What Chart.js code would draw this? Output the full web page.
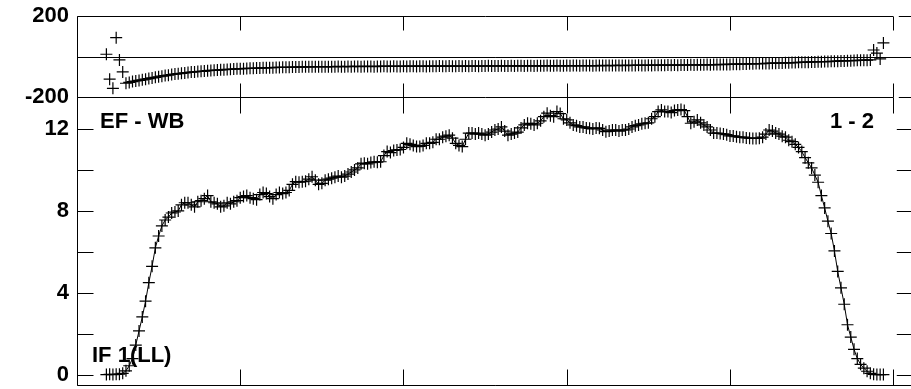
<!DOCTYPE html>
<html><head><meta charset="utf-8">
<script src="https://cdn.jsdelivr.net/npm/chart.js@4"></script>
<style>
html,body{margin:0;padding:0;background:#fff;overflow:hidden;width:911px;height:389px}
canvas{position:absolute;left:0;top:0}
</style></head>
<body>
<canvas id="topPanel" width="920" height="400"></canvas>
<canvas id="botPanel" width="920" height="400"></canvas>
<script>
// ---- data (channel numbers start at firstChannel) ----
const firstChannel = 9;
const phaseValues = [
  11, -112, -157, 93, -17, -76, -132, -128, -124, -121,
  -118, -115, -112, -109, -106, -103, -100, -97, -94, -92,
  -89, -87, -85, -83, -81, -79, -77, -76, -74, -73,
  -72, -70, -69, -68, -67, -66, -65, -64, -63, -62,
  -61, -60, -60, -59, -58, -58, -57, -57, -56, -56,
  -55, -55, -54, -54, -53, -53, -53, -52, -52, -52,
  -51, -51, -51, -51, -50, -50, -50, -51, -50, -50,
  -50, -49, -50, -50, -49, -50, -49, -49, -50, -49,
  -49, -49, -50, -49, -49, -48, -49, -49, -48, -49,
  -49, -48, -49, -48, -48, -49, -48, -48, -49, -48,
  -48, -48, -47, -48, -48, -47, -48, -48, -47, -48,
  -47, -48, -47, -47, -48, -47, -47, -46, -47, -47,
  -47, -46, -47, -47, -46, -47, -46, -46, -47, -46,
  -46, -47, -46, -46, -46, -45, -46, -46, -45, -46,
  -46, -45, -46, -45, -45, -46, -45, -45, -45, -46,
  -45, -45, -44, -45, -45, -44, -45, -44, -44, -45,
  -44, -44, -44, -43, -44, -44, -43, -44, -43, -43,
  -43, -43, -42, -43, -42, -43, -42, -42, -42, -41,
  -42, -41, -41, -41, -40, -41, -40, -40, -39, -40,
  -39, -39, -38, -38, -38, -37, -37, -36, -36, -35,
  -35, -35, -34, -34, -33, -33, -32, -32, -31, -31,
  -30, -30, -29, -29, -28, -28, -27, -27, -26, -26,
  -25, -25, -24, -24, -23, -22, -22, -21, -21, -20,
  -19, -19, -18, -18, -17, 32, 17, -12, 67
];
const ampValues = [
  0.02, 0.03, 0.02, 0.03, 0.04, 0.08, 0.2, 0.45, 0.8, 1.46,
  2.15, 2.83, 3.6, 4.5, 5.3, 6.2, 6.78, 7.27, 7.56, 7.7,
  7.9, 7.95, 8.0, 8.3, 8.4, 8.4, 8.3, 8.2, 8.45, 8.5,
  8.6, 8.75, 8.45, 8.4, 8.35, 8.2, 8.25, 8.4, 8.35, 8.45,
  8.5, 8.65, 8.7, 8.75, 8.65, 8.6, 8.55, 8.8, 8.9, 8.85,
  8.7, 8.6, 8.8, 8.9, 8.85, 8.9, 9.0, 9.3, 9.43, 9.4,
  9.43, 9.45, 9.55, 9.67, 9.5, 9.3, 9.35, 9.5, 9.55, 9.6,
  9.65, 9.7, 9.65, 9.7, 9.8, 9.9, 10.0, 10.1, 10.3, 10.33,
  10.3, 10.36, 10.4, 10.38, 10.4, 10.7, 10.9, 10.85, 10.95, 10.98,
  11.0, 11.1, 11.3, 11.25, 11.2, 11.14, 11.15, 11.2, 11.3, 11.3,
  11.35, 11.5, 11.5, 11.6, 11.65, 11.7, 11.55, 11.3, 11.2, 11.14,
  11.5, 11.8, 11.8, 11.75, 11.8, 11.75, 11.7, 11.75, 11.85, 11.95,
  12.0, 12.1, 11.9, 11.7, 11.75, 11.8, 11.85, 12.05, 12.2, 12.28,
  12.25, 12.2, 12.28, 12.4, 12.6, 12.77, 12.65, 12.6, 12.85, 12.75,
  12.5, 12.44, 12.3, 12.2, 12.16, 12.1, 12.1, 12.05, 12.03, 12.0,
  12.05, 12.03, 11.95, 11.87, 11.9, 11.95, 11.95, 11.9, 11.95, 11.95,
  12.0, 12.1, 12.16, 12.2, 12.25, 12.28, 12.3, 12.5, 12.6, 12.85,
  12.93, 12.85, 12.85, 12.8, 12.9, 12.93, 12.95, 12.9, 12.6, 12.28,
  12.35, 12.44, 12.3, 12.2, 12.1, 11.95, 11.8, 11.8, 11.78, 11.76,
  11.72, 11.66, 11.66, 11.62, 11.6, 11.6, 11.56, 11.55, 11.54, 11.54,
  11.55, 11.6, 11.75, 11.95, 11.9, 11.8, 11.75, 11.65, 11.6, 11.45,
  11.38, 11.25, 11.1, 10.9, 10.6, 10.35, 10.1, 9.75, 9.4, 8.75,
  8.15, 7.5, 6.9, 6.05, 5.05, 4.25, 3.45, 2.45, 1.85, 1.25,
  0.8, 0.52, 0.33, 0.18, 0.08, 0.03, 0.02, 0.02, 0.02
];
const channels = ampValues.map((_, i) => firstChannel + i);
const xTickValues = [0, 50, 100, 150, 200, 250];
const phaseTickLabels = [-200, 200];
const ampTickLabels = [0, 4, 8, 12];
const ampMinorTicks = [0, 2, 4, 6, 8, 10, 12];
const baselineLabel = 'EF - WB';
const pairLabel = '1 - 2';
const ifLabel = 'IF 1(LL)';

// ---- styling ----
const FONT = '"Liberation Sans", Arial, Helvetica, sans-serif';
Chart.defaults.font.family = FONT;
Chart.defaults.color = '#000';

function yScale(min, max, ticks) {
  return {
    position: 'left', min, max,
    grid: { display: false, drawTicks: false },
    border: { display: false },
    ticks: { padding: 8, color: '#000', font: { size: 22, weight: 'bold' } },
    afterBuildTicks(s) { s.ticks = ticks.map(v => ({ value: v })); },
    afterFit(s) { s.width = 77; s.paddingTop = 0; s.paddingBottom = 0; }
  };
}
const xScale = { type: 'linear', min: 0, max: 256, display: false };

function line(ctx, x1, y1, x2, y2) { ctx.moveTo(x1, y1); ctx.lineTo(x2, y2); }
const h = v => Math.round(v) + 0.5;

const topFrame = {
  id: 'topFrame',
  afterDatasetsDraw(chart) {
    const { ctx, chartArea: a, scales: { x, y } } = chart;
    const L = h(a.left), T = h(a.top), B = h(a.bottom), R = a.right;
    const xEnd = x.getPixelForValue(250);
    ctx.save();
    ctx.strokeStyle = '#000'; ctx.lineWidth = 1;
    ctx.beginPath();
    line(ctx, L, T, L, B);
    line(ctx, L, T, xEnd, T); line(ctx, R - 14, T, R, T);
    line(ctx, L, B, xEnd, B); line(ctx, R - 14, B, R, B);
    const z = h(y.getPixelForValue(0));
    line(ctx, L, z, R, z);
    xTickValues.forEach(v => {
      const px = h(x.getPixelForValue(v));
      line(ctx, px, T, px, T + 14);
      line(ctx, px, B, px, B - 14);
    });
    ctx.stroke();
    ctx.restore();
  }
};

const botFrame = {
  id: 'botFrame',
  afterDatasetsDraw(chart) {
    const { ctx, chartArea: a, scales: { x, y } } = chart;
    const L = h(a.left), T = h(a.top), B = h(a.bottom), R = a.right;
    ctx.save();
    ctx.strokeStyle = '#000'; ctx.lineWidth = 1;
    ctx.beginPath();
    line(ctx, L, T, L, B);
    line(ctx, L, B, R, B);
    xTickValues.forEach(v => {
      const px = h(x.getPixelForValue(v));
      line(ctx, px, T, px, T + 16);
      line(ctx, px, B, px, B - 16);
    });
    ampMinorTicks.forEach(v => {
      const py = h(y.getPixelForValue(v));
      line(ctx, L, py, L + 16, py);
      line(ctx, R - 16, py, R, py);
    });
    ctx.stroke();
    ctx.font = 'bold 22px ' + FONT;
    ctx.fillStyle = '#000';
    ctx.textBaseline = 'middle';
    ctx.textAlign = 'left';
    ctx.fillText(baselineLabel, 100, 122);
    ctx.fillText(pairLabel, 830, 122);
    ctx.fillText(ifLabel, 92, 356);
    ctx.restore();
  }
};

const pointStyleOpts = {
  pointStyle: 'cross', pointRadius: 6, pointBorderWidth: 1.2,
  pointBorderColor: '#000', pointBackgroundColor: '#000'
};

new Chart(document.getElementById('topPanel'), {
  type: 'scatter',
  data: { datasets: [{
    data: channels.map((c, i) => ({ x: c, y: phaseValues[i] })),
    showLine: false, ...pointStyleOpts
  }] },
  options: {
    responsive: false, animation: false,
    layout: { padding: { left: 0, right: 7, top: 16, bottom: 303 } },
    plugins: { legend: { display: false }, tooltip: { enabled: false } },
    scales: { x: xScale, y: yScale(-200, 200, phaseTickLabels) }
  },
  plugins: [topFrame]
});

new Chart(document.getElementById('botPanel'), {
  type: 'scatter',
  data: { datasets: [{
    data: channels.map((c, i) => ({ x: c, y: ampValues[i] })),
    showLine: true, borderColor: '#000', borderWidth: 1, tension: 0,
    ...pointStyleOpts
  }] },
  options: {
    responsive: false, animation: false,
    layout: { padding: { left: 0, right: 7, top: 97, bottom: 15 } },
    plugins: { legend: { display: false }, tooltip: { enabled: false } },
    scales: { x: xScale, y: yScale(-0.49, 13.56, ampTickLabels) }
  },
  plugins: [botFrame]
});
</script>
</body></html>
